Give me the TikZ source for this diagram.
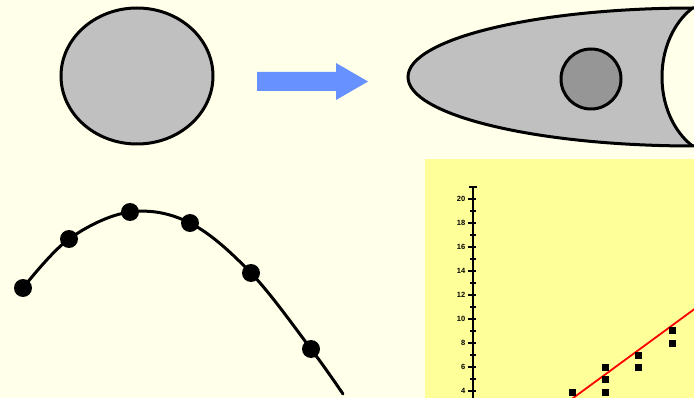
\documentclass[tikz,border=0pt]{standalone}
\usepackage{fontspec}
\usepackage{tikz}
\newfontfamily\labfont{Liberation Sans}
\definecolor{bgcol}{RGB}{255,255,234}
\definecolor{shapegray}{RGB}{192,192,192}
\definecolor{darkgray}{RGB}{150,150,150}
\definecolor{arrowblue}{RGB}{102,145,255}
\definecolor{chartyellow}{RGB}{255,255,153}
\definecolor{fitred}{RGB}{255,0,0}
\tikzset{
  outline/.style={draw=black, line width=3pt},
  datadot/.style={circle, fill=black, inner sep=0pt, minimum size=18pt},
  datasq/.style={fill=black, inner sep=0pt, minimum size=7pt},
  ticklab/.style={anchor=east, inner sep=0pt, font=\labfont\bfseries\fontsize{7.5}{8}\selectfont},
}
\begin{document}
\begin{tikzpicture}[x=1pt,y=-1pt]
\useasboundingbox (0,0) rectangle (694,398);
\fill[bgcol] (0,0) rectangle (694,398);
\clip (0,0) rectangle (694,398);

% left circle
\draw[outline, fill=shapegray] (137,76) ellipse [x radius=76, y radius=68];

% blue arrow
\fill[arrowblue] (257,72) -- (336,72) -- (336,63) -- (368,81.5) -- (336,100) -- (336,91) -- (257,91) -- cycle;

% right bullet shape
\fill[shapegray] (694,77) ellipse [x radius=286, y radius=69];
\begin{scope}
  \clip (694,77) ellipse [x radius=286, y radius=69];
  \draw[outline, fill=bgcol] (724,77) ellipse [x radius=62, y radius=80];
\end{scope}
\draw[outline] (694,77) ellipse [x radius=286, y radius=69];
\draw[outline, fill=darkgray] (591,79) circle [radius=30];

% curve with dots
\draw[line width=3pt, line cap=round] plot[smooth, tension=0.6] coordinates {(23,288) (69,239) (130,212) (190,223) (251,273) (311,349) (343,394)};
\foreach \n/\p in {a/{(23,288)}, b/{(69,239)}, c/{(130,212)}, d/{(190,223)}, e/{(251,273)}, f/{(311,349)}}
  \node[datadot] (dot\n) at \p {};

% chart
\fill[chartyellow] (425,159) rectangle (694,398);
\draw[line width=2.2pt] (473,187) -- (473,398);
\draw[line width=1.6pt] (469,187) -- (477,187);
\foreach \v in {4,6,...,20} {
  \draw[line width=1.8pt] (467.5,{391-(\v-4)*12}) -- (476,{391-(\v-4)*12});
  \node[ticklab] (lab\v) at (465.5,{391-(\v-4)*12}) {\v};
}
\foreach \v in {5,7,...,19} {
  \draw[line width=1.6pt] (470,{391-(\v-4)*12}) -- (476,{391-(\v-4)*12});
}
\draw[fitred, line width=1.8pt] (569,401) -- (700,305);
\foreach \n/\p in {a/{(572,392)}, b/{(605,367)}, c/{(605,379)}, d/{(605,392)}, e/{(638,355)}, f/{(638,367)}, g/{(672,331)}, h/{(672,343)}}
  \node[datasq] (sq\n) at \p {};
\end{tikzpicture}
\end{document}
